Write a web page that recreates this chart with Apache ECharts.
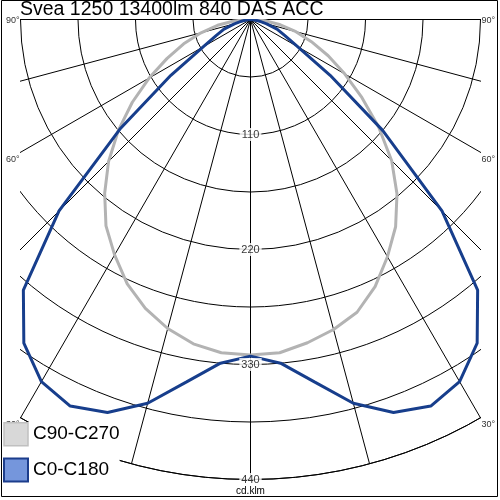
<!DOCTYPE html>
<html>
<head>
<meta charset="utf-8">
<script src="https://cdn.jsdelivr.net/npm/echarts@6/dist/echarts.min.js"></script>
<style>html,body{margin:0;padding:0;background:#fff;}#c{width:500px;height:500px;}</style>
</head>
<body>
<div id="c"></div>
<script>
// Photometric angles (gamma, 0 = straight down)
const angles = [0, 5, 10, 15, 20, 25, 30, 35, 40, 45, 50, 55, 60, 65, 70, 75, 80, 85, 90];
// Luminous intensity, cd/klm
const c0   = [322, 330, 352, 380, 400, 408, 400, 378, 338, 259, 165, 93, 52, 36, 27, 16, 8, 3, 0];
const c180 = [322, 330, 352, 380, 400, 408, 400, 378, 338, 259, 163, 93, 52, 36, 27, 16, 8, 3, 0];
const c90  = [321, 320, 314, 307, 298, 282, 262, 242, 218, 191, 160, 130, 104, 82, 62, 45, 29, 14, 2];
const c270 = [321, 320, 315, 306, 294, 279, 260, 241, 217, 192, 165, 138, 112, 88, 68, 49, 32, 16, 2];
// Axis tick labels
const ringTicks = [110, 220, 330, 440];
const angleTicks = [90, 60, 30];
const titleText = 'Svea 1250 13400lm 840 DAS ACC';
const unitText = 'cd.klm';
const seriesNames = ['C90-C270', 'C0-C180'];

function curve(right, left) {
  const d = [];
  for (let i = angles.length - 1; i >= 0; i--) d.push([right[i], -angles[i]]);
  for (let i = 1; i < angles.length; i++) d.push([left[i], angles[i]]);
  return d;
}

const CX = 250.5, CY = 19.5, R = 460, HALFW = 230;
const font = 'Liberation Sans, Arial, sans-serif';

const graphics = [
  {type: 'rect', z: 3, shape: {x: 0, y: 0, width: CX - HALFW - 0.5, height: 500}, style: {fill: '#fff'}},
  {type: 'rect', z: 3, shape: {x: CX + HALFW + 0.5, y: 0, width: 40, height: 500}, style: {fill: '#fff'}},
  {type: 'rect', z: 3, shape: {x: 0, y: 0, width: 500, height: CY - 0.5}, style: {fill: '#fff'}},
  {type: 'text', z: 10, x: CX, y: 491, style: {text: unitText, fill: '#000', font: '10px ' + font, align: 'center', verticalAlign: 'middle'}},
  {type: 'rect', z: 30, shape: {x: 1.5, y: 0.5, width: 496, height: 496}, style: {fill: null, stroke: '#000', lineWidth: 1}}
];
angleTicks.forEach(a => {
  const yEnd = a === 90 ? CY : CY + HALFW / Math.tan(a * Math.PI / 180);
  const y = a === 90 ? yEnd + 1.5 : yEnd + 7;
  graphics.push({type: 'text', z: 10, x: CX - HALFW - 1, y: y, style: {text: a + '°', fill: '#333', font: '9px ' + font, align: 'right', verticalAlign: 'middle'}});
  graphics.push({type: 'text', z: 10, x: CX + HALFW + 1, y: y, style: {text: a + '°', fill: '#333', font: '9px ' + font, align: 'left', verticalAlign: 'middle'}});
});

const chart = echarts.init(document.getElementById('c'), null, {renderer: 'canvas'});
chart.setOption({
  animation: false,
  backgroundColor: '#fff',
  title: {text: titleText, left: 20, top: 0, padding: 0, z: 20,
    textStyle: {fontSize: 19.5, fontWeight: 'normal', color: '#000', fontFamily: font}},
  legend: {
    orient: 'vertical', left: 3, top: 422, padding: 0, itemGap: 11,
    itemWidth: 24, itemHeight: 23, z: 20, selectedMode: false,
    backgroundColor: '#fff',
    textStyle: {fontSize: 19, color: '#000', fontFamily: font},
    data: [
      {name: seriesNames[0], icon: 'rect', itemStyle: {color: '#d8d8d8', borderColor: '#c0c0c0', borderWidth: 1.5}},
      {name: seriesNames[1], icon: 'rect', itemStyle: {color: '#7596dc', borderColor: '#1c3d8c', borderWidth: 2}}
    ]
  },
  polar: {center: [CX, CY], radius: R},
  angleAxis: {
    type: 'value', min: -180, max: 180, interval: 15, startAngle: 90, clockwise: true,
    axisLine: {show: true, lineStyle: {color: '#000', width: 1}},
    axisTick: {show: false}, axisLabel: {show: false},
    splitLine: {show: true, lineStyle: {color: '#000', width: 1}}
  },
  radiusAxis: {
    type: 'value', min: 0, max: 440, interval: 55,
    axisLine: {show: false}, axisTick: {show: false}, axisLabel: {show: false},
    splitLine: {show: true, lineStyle: {color: '#000', width: 1}}
  },
  graphic: {elements: graphics},
  series: [
    {name: seriesNames[0], type: 'line', coordinateSystem: 'polar', symbol: 'none', z: 2,
      data: curve(c90, c270), lineStyle: {color: '#b3b3b3', width: 3}, itemStyle: {color: '#d8d8d8'}},
    {name: seriesNames[1], type: 'line', coordinateSystem: 'polar', symbol: 'none', z: 2,
      data: curve(c0, c180), lineStyle: {color: '#173e8c', width: 3}, itemStyle: {color: '#7596dc'}},
    {name: 'ticks', type: 'scatter', coordinateSystem: 'polar', symbolSize: 0, z: 5, silent: true,
      data: ringTicks.map(r => [r, 0]),
      label: {show: true, position: 'inside', formatter: p => String(p.value[0]),
        color: '#000', fontSize: 11, fontFamily: font, backgroundColor: '#fff', padding: [1, 2]}}
  ]
});
</script>
</body>
</html>
